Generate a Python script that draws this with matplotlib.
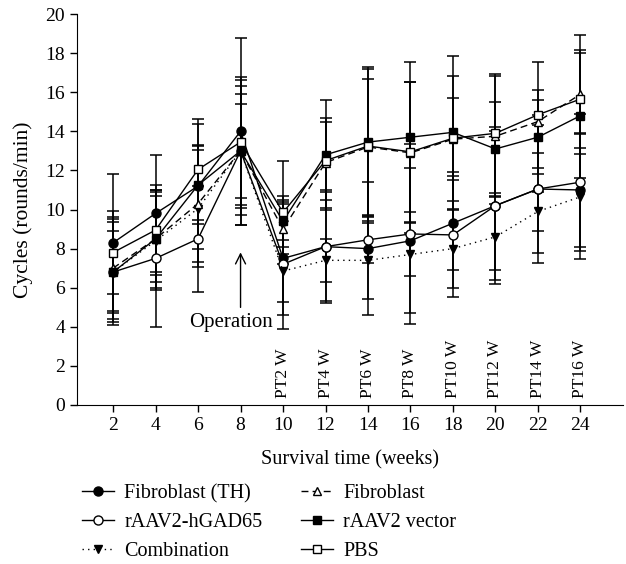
import numpy as np
import matplotlib.pyplot as plt

plt.rcParams["font.family"] = ["Liberation Serif", "DejaVu Serif"]

weeks = [2, 4, 6, 8, 10, 12, 14, 16, 18, 20, 22, 24]
pt_labels = ["PT2 W", "PT4 W", "PT6 W", "PT8 W", "PT10 W", "PT12 W", "PT14 W", "PT16 W"]

fib_th = [8.3, 9.8, 11.2, 14.0, 7.5, 8.1, 8.0, 8.4, 9.3, 10.2, 11.05, 11.0]
fib_th_sd = [3.5, 3.0, 3.2, 4.8, 2.9, 2.8, 3.4, 3.7, 2.4, 3.8, 3.3, 2.9]

gad65 = [6.8, 7.5, 8.5, 13.0, 7.2, 8.1, 8.45, 8.75, 8.7, 10.2, 11.05, 11.4]
gad65_sd = [2.1, 3.5, 2.7, 3.8, 3.3, 2.9, 1.2, 4.6, 3.2, 4.0, 3.8, 3.5]

combo = [6.8, 8.4, 10.05, 13.0, 6.85, 7.4, 7.4, 7.7, 8.0, 8.6, 9.9, 10.65]
combo_sd = [2.7, 2.5, 3.0, 2.4, 1.6, 1.1, 2.0, 1.1, 2.0, 1.7, 1.0, 3.2]

fib = [7.0, 8.5, 10.3, 13.0, 9.0, 12.4, 13.2, 12.9, 13.6, 13.75, 14.5, 15.9]
fib_sd = [2.6, 2.2, 3.0, 2.9, 1.3, 2.3, 3.5, 3.6, 2.1, 3.1, 1.6, 3.05]

vector = [6.8, 8.5, 11.25, 13.0, 9.4, 12.8, 13.45, 13.7, 13.95, 13.1, 13.7, 14.8]
vector_sd = [2.55, 2.5, 2.0, 3.3, 1.3, 2.8, 3.85, 3.85, 3.9, 2.4, 1.9, 3.2]

pbs = [7.8, 8.95, 12.05, 13.45, 9.85, 12.5, 13.25, 12.95, 13.65, 13.9, 14.85, 15.65]
pbs_sd = [2.1, 2.3, 2.6, 3.2, 2.65, 2.0, 3.95, 3.6, 3.2, 3.05, 2.7, 2.5]

fig = plt.figure(figsize=(6.26, 5.64), dpi=100)
ax = fig.add_axes([0.123, 0.282, 0.872, 0.693])

series = [
    ("Fibroblast (TH)", fib_th, fib_th_sd, "o", "black", "-"),
    ("rAAV2-hGAD65", gad65, gad65_sd, "o", "white", "-"),
    ("Combination", combo, combo_sd, "v", "black", (0, (1, 3))),
    ("Fibroblast", fib, fib_sd, "^", "white", (0, (5, 3))),
    ("rAAV2 vector", vector, vector_sd, "s", "black", "-"),
    ("PBS", pbs, pbs_sd, "s", "white", "-"),
]

handles = []
for name, vals, sd, mk, fc, ls in series:
    ax.errorbar(weeks, vals, yerr=sd, fmt="none", ecolor="black",
                elinewidth=1.1, capsize=4.5, capthick=1.1, zorder=2)
    h, = ax.plot(weeks, vals, color="black", linestyle=ls, linewidth=1.0,
                 marker=mk, markersize=6.5 if mk == "o" else 6,
                 markerfacecolor=fc, markeredgecolor="black",
                 markeredgewidth=1.0, label=name, zorder=3)
    handles.append(h)

ax.set_xlim(0.3, 26)
ax.set_ylim(0, 20)
ax.set_xticks(weeks)
ax.set_yticks(np.arange(0, 21, 2))
ax.spines["top"].set_visible(False)
ax.spines["right"].set_visible(False)
ax.tick_params(direction="out", length=5, width=1, labelsize=14)
ax.set_xlabel("Survival time (weeks)", fontsize=14.5, labelpad=12)
ax.set_ylabel("Cycles (rounds/min)", fontsize=15.5, labelpad=9)

# post-treatment labels
for w, lab in zip(weeks[4:], pt_labels):
    ax.text(w, 0.35, lab, rotation=90, ha="center", va="bottom", fontsize=12.5)

ax.annotate("", xy=(8, 7.95), xytext=(8, 4.85),
            arrowprops=dict(arrowstyle="->", color="black", lw=1.0,
                            mutation_scale=18))
ax.text(7.55, 4.2, "Operation", ha="center", va="center", fontsize=15)

fig.legend(handles, [h.get_label() for h in handles], ncol=2,
           loc="upper left", bbox_to_anchor=(0.131, 0.142), frameon=False,
           fontsize=14.5, handlelength=1.6, handletextpad=0.5,
           columnspacing=1.9, labelspacing=0.5, borderaxespad=0,
           borderpad=0)

fig.savefig("out.png", dpi=100)
